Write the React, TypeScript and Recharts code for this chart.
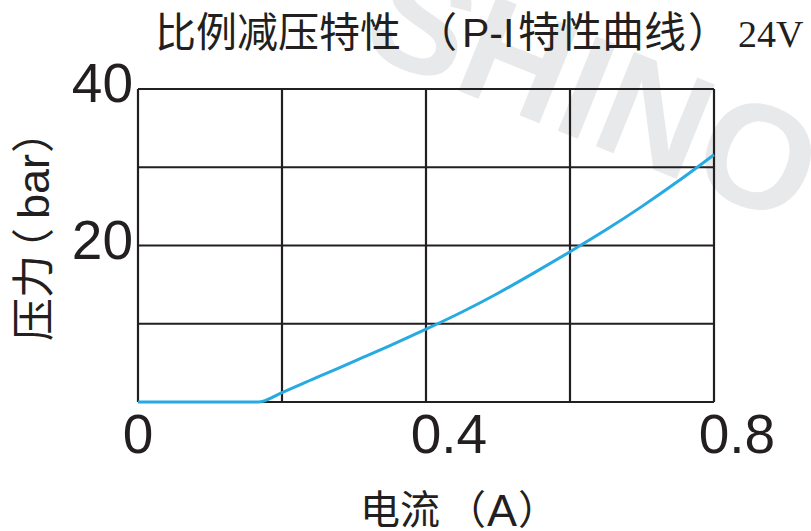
import { LineChart, Line, XAxis, YAxis, CartesianGrid } from 'recharts';

// P-I curve (current in A, pressure in bar)
const current = [0, 0.1667, 0.2, 0.25, 0.3, 0.35, 0.4, 0.45, 0.5, 0.55, 0.6, 0.65, 0.7, 0.75, 0.8];
const pressure = [0, 0, 1.2, 3.2, 5.2, 7.2, 9.3, 11.5, 13.9, 16.5, 19.2, 22.0, 25.0, 28.2, 31.6];

const xTicks = [0, 0.2, 0.4, 0.6, 0.8];
const xLabels = ['0', '0.4', '0.8'];
const yTicks = [0, 10, 20, 30, 40];
const yLabels = ['20', '40'];

const data = current.map((c, i) => ({ current: c, pressure: pressure[i] }));

const INK = '#231f20';
const LATIN = '"Liberation Sans", Arial, sans-serif';
const CJK = '"Noto Sans CJK SC", sans-serif';
const TICK_FS = 55;

const XTick = (props: any) => {
  const label = String(props.payload.value);
  if (!xLabels.includes(label)) return <g />;
  // the leading "0" sits centred on the grid line
  return (
    <text x={props.x - 0.278 * TICK_FS} y={453} fontSize={TICK_FS} fontFamily={LATIN} fill={INK} textAnchor="start">
      {label}
    </text>
  );
};

const YTick = (props: any) => {
  const label = String(props.payload.value);
  if (!yLabels.includes(label)) return <g />;
  return (
    <text x={133} y={props.y + 13} fontSize={TICK_FS} fontFamily={LATIN} fill={INK} textAnchor="end">
      {label}
    </text>
  );
};

export default function App() {
  return (
    <div style={{ position: 'absolute', left: 0, top: 0, width: 811, height: 531, background: '#fff', overflow: 'hidden' }}>
      {/* watermark */}
      <svg width={811} height={531} style={{ position: 'absolute', left: 0, top: 0 }}>
        <text
          x={0}
          y={0}
          transform="translate(358,50) rotate(22)"
          fontSize={148}
          fontWeight="bold"
          fontFamily={LATIN}
          fill="#e8e9ea"
        >
          SHINO
        </text>
      </svg>

      <div style={{ position: 'absolute', left: 0, top: 0 }}>
        <LineChart width={811} height={531} data={data} margin={{ top: 89, right: 97, bottom: 0, left: 0 }}>
          <CartesianGrid stroke={INK} strokeWidth={2.2} />
          <XAxis
            dataKey="current"
            type="number"
            domain={[0, 0.8]}
            ticks={xTicks}
            height={129}
            axisLine={false}
            tickLine={false}
            tick={XTick}
            interval={0}
          />
          <YAxis
            type="number"
            domain={[0, 40]}
            ticks={yTicks}
            width={138}
            axisLine={false}
            tickLine={false}
            tick={YTick}
            interval={0}
          />
          <Line
            type="monotone"
            dataKey="pressure"
            stroke="#27aae1"
            strokeWidth={3}
            dot={false}
            isAnimationActive={false}
          />
        </LineChart>
      </div>

      {/* titles */}
      <svg width={811} height={531} style={{ position: 'absolute', left: 0, top: 0, pointerEvents: 'none' }}>
        <text y={47} fill={INK}>
          <tspan x={155} fontSize={41} fontFamily={CJK}>比例减压特性</tspan>
          <tspan x={416} fontSize={41} fontFamily={CJK}>（</tspan>
          <tspan x={462} fontSize={41} fontFamily={LATIN}>P-I</tspan>
          <tspan x={518} fontSize={42} fontFamily={CJK}>特性曲线</tspan>
          <tspan x={688} fontSize={41} fontFamily={CJK}>）</tspan>
          <tspan x={738} fontSize={38} fontFamily='"Liberation Serif", "Times New Roman", serif'>24V</tspan>
        </text>

        <text y={524} fill={INK}>
          <tspan x={360} fontSize={40} fontFamily={CJK}>电流</tspan>
          <tspan x={446} fontSize={40} fontFamily={CJK}>（</tspan>
          <tspan x={487} y={526} fontSize={45} fontFamily={LATIN}>A</tspan>
          <tspan x={518} y={524} fontSize={40} fontFamily={CJK}>）</tspan>
        </text>

        <text transform="translate(49,341) rotate(-90)" fill={INK}>
          <tspan x={0} y={0} fontSize={43} fontFamily={CJK}>压力</tspan>
          <tspan x={70} y={0} fontSize={43} fontFamily={CJK}>（</tspan>
          <tspan x={122} y={0} fontSize={45} fontFamily={LATIN}>bar</tspan>
          <tspan x={188} y={0} fontSize={43} fontFamily={CJK}>）</tspan>
        </text>
      </svg>
    </div>
  );
}
